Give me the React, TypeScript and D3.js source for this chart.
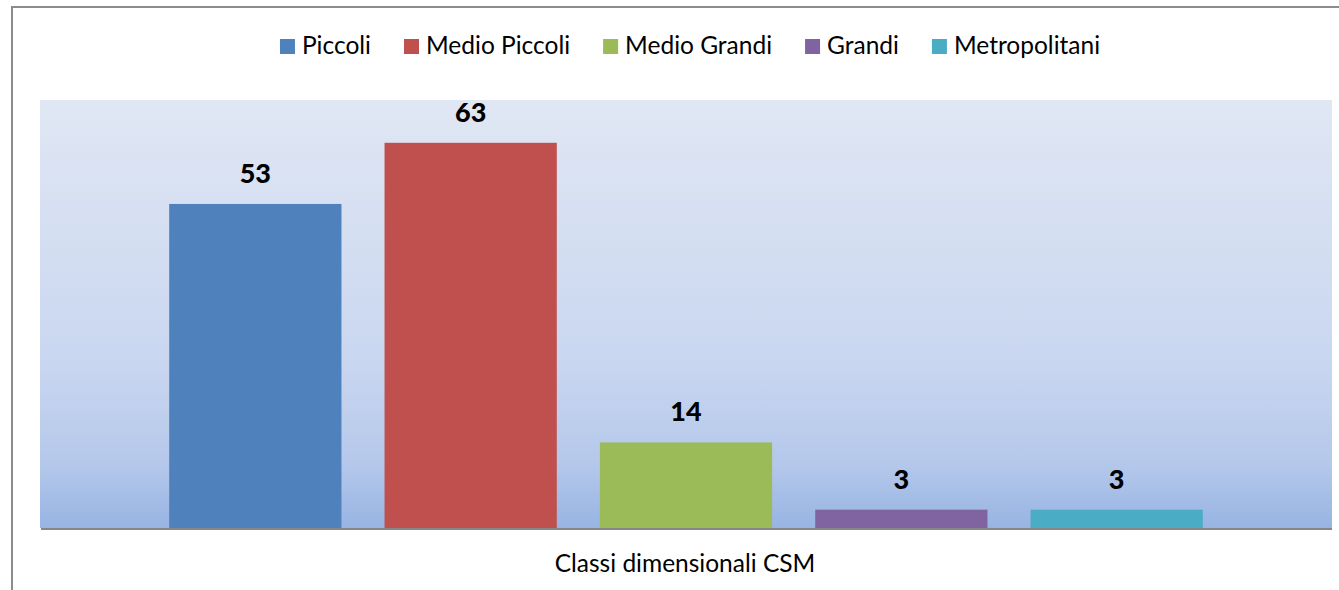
import React, { useEffect, useRef } from "react";
import * as d3 from "d3";

const categories = ["Classi dimensionali CSM"];
const seriesNames = ["Piccoli", "Medio Piccoli", "Medio Grandi", "Grandi", "Metropolitani"];
const seriesValues = [53, 63, 14, 3, 3];
const seriesColors = ["#4f81bd", "#c0504d", "#9bbb59", "#8064a2", "#4bacc6"];
const yDomain = [0, 70];

const W = 1339;
const H = 590;
const FONT = "Lato, 'Open Sans', sans-serif";

export default function App() {
  const ref = useRef<SVGSVGElement | null>(null);

  useEffect(() => {
    document.body.style.margin = "0";
    const svg = d3.select(ref.current);
    svg.selectAll("*").remove();

    const plot = { x0: 40, x1: 1332, y0: 100, y1: 528 };

    const defs = svg.append("defs");
    const grad = defs
      .append("linearGradient")
      .attr("id", "bg")
      .attr("x1", 0)
      .attr("y1", 0)
      .attr("x2", 0)
      .attr("y2", 1);
    [
      [0, "#e0e7f4"],
      [0.6, "#cad7f0"],
      [0.85, "#b5c8eb"],
      [1, "#97b4e3"],
    ].forEach(([o, c]) => grad.append("stop").attr("offset", o as number).attr("stop-color", c as string));

    // outer border
    svg
      .append("rect")
      .attr("x", 12)
      .attr("y", 7)
      .attr("width", 1400)
      .attr("height", 700)
      .attr("fill", "#fff")
      .attr("stroke", "#8c8c8c")
      .attr("stroke-width", 2);

    // plot area
    svg
      .append("rect")
      .attr("x", plot.x0)
      .attr("y", plot.y0)
      .attr("width", plot.x1 - plot.x0)
      .attr("height", plot.y1 - plot.y0)
      .attr("fill", "url(#bg)");

    const xCat = d3.scaleBand<string>().domain(categories).range([plot.x0, plot.x1]).paddingInner(0).paddingOuter(0);
    const y = d3.scaleLinear().domain(yDomain).range([plot.y1, plot.y0]);

    const catW = xCat.bandwidth();
    // Excel gap width 150%, overlap -25%
    const n = seriesNames.length;
    const barW = catW / (n + 0.25 * (n - 1) + 1.5);
    const step = barW * 1.25;
    const groupStart = (xCat(categories[0]) as number) + barW * 0.75;
    const xSeries = d3
      .scaleBand<string>()
      .domain(seriesNames)
      .range([groupStart, groupStart + step * (n - 1) + barW])
      .paddingInner(0.2)
      .paddingOuter(0);

    const g = svg.append("g");
    seriesNames.forEach((s, i) => {
      const v = seriesValues[i];
      const bx = xSeries(s) as number;
      g.append("rect")
        .attr("x", bx)
        .attr("y", y(v))
        .attr("width", xSeries.bandwidth())
        .attr("height", y(0) - y(v))
        .attr("fill", seriesColors[i]);
      g.append("text")
        .attr("x", bx + xSeries.bandwidth() / 2)
        .attr("y", y(v) - 21)
        .attr("text-anchor", "middle")
        .attr("font-family", FONT)
        .attr("font-weight", 900)
        .attr("font-size", 27)
        .attr("fill", "#000")
        .text(String(v));
    });

    // axis line
    svg
      .append("line")
      .attr("x1", plot.x0 + 1)
      .attr("x2", plot.x1)
      .attr("y1", plot.y1 + 1)
      .attr("y2", plot.y1 + 1)
      .attr("stroke", "#868686")
      .attr("stroke-width", 2);

    // category label
    svg
      .append("text")
      .attr("x", 685)
      .attr("y", 572)
      .attr("text-anchor", "middle")
      .attr("font-family", FONT)
      .attr("font-size", 24.5)
      .attr("fill", "#000")
      .text(categories[0]);

    // legend
    const leg = svg.append("g");
    const items: { g: any; w: number }[] = [];
    seriesNames.forEach((s, i) => {
      const ig = leg.append("g");
      ig.append("rect").attr("x", 0).attr("y", -15).attr("width", 15).attr("height", 15).attr("fill", seriesColors[i]);
      const t = ig
        .append("text")
        .attr("x", 22)
        .attr("y", 0)
        .attr("font-family", FONT)
        .attr("font-size", 24.5)
        .attr("fill", "#000")
        .text(s);
      const tw = (t.node() as SVGTextElement).getComputedTextLength();
      items.push({ g: ig, w: 22 + tw });
    });
    const gap = 33;
    const total = items.reduce((a, b) => a + b.w, 0) + gap * (items.length - 1);
    let cx = 690 - total / 2;
    items.forEach((it) => {
      it.g.attr("transform", `translate(${cx},54)`);
      cx += it.w + gap;
    });
  }, []);

  return <svg ref={ref} width={W} height={H} style={{ display: "block" }} />;
}
